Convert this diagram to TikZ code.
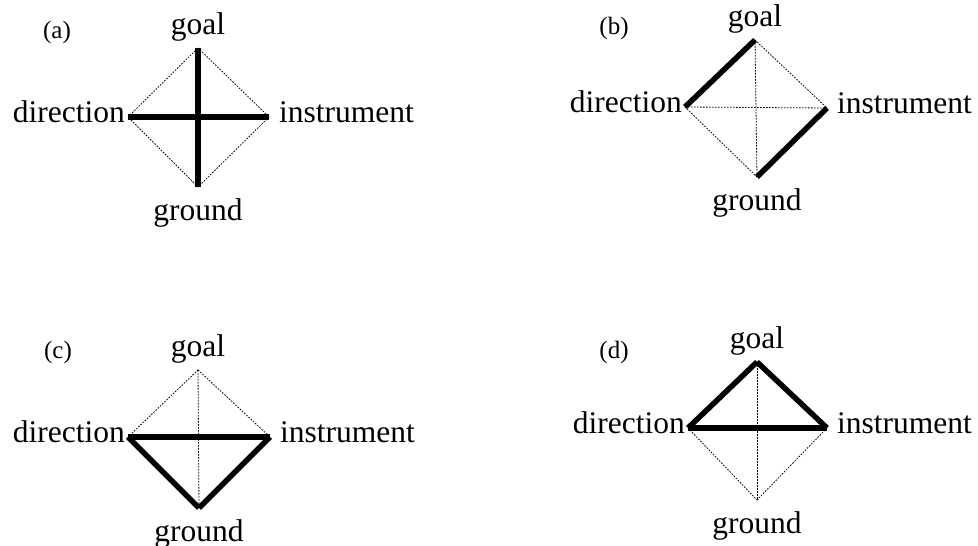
\documentclass[tikz,border=0pt]{standalone}
\usepackage{fontspec}
\setmainfont{Liberation Serif}
\usetikzlibrary{positioning}

\begin{document}
\begin{tikzpicture}[x=1pt,y=1pt,lbl/.style={inner sep=0pt,font=\fontsize{31.5}{38}\selectfont},tag/.style={inner sep=0pt,font=\fontsize{25}{30}\selectfont},heavy/.style={line width=5.5pt,line cap=butt},faint/.style={line width=.8pt,dash pattern=on 1.6pt off 1.4pt}]
\useasboundingbox (0,0) rectangle (978,546);
% (a)
\coordinate (goalA) at (198,498); \coordinate (dirA) at (128,429); \coordinate (insA) at (269,429); \coordinate (gndA) at (198,359);
\node[tag] (tagA) at (57,514) {(a)};
\node[lbl,above=13pt of goalA,anchor=base] (goalAl) {goal};
\node[lbl,left=3pt of dirA,anchor=base east,yshift=-6pt] (dirAl) {direction};
\node[lbl,right=10pt of insA,anchor=base west,yshift=-6pt] (insAl) {instrument};
\node[lbl,below=34pt of gndA,anchor=base] (gndAl) {ground};
\draw[faint] (goalA)--(insA);\draw[faint] (insA)--(gndA);\draw[faint] (gndA)--(dirA);\draw[faint] (dirA)--(goalA);
\draw[heavy] (dirA)--(insA);\draw[heavy] (goalA)--(gndA);
% (b)
\coordinate (goalB) at (755,506); \coordinate (dirB) at (685,439); \coordinate (insB) at (827,438); \coordinate (gndB) at (757,369);
\node[tag] (tagB) at (614,518) {(b)};
\node[lbl,above=13pt of goalB,anchor=base] (goalBl) {goal};
\node[lbl,left=3pt of dirB,anchor=base east,yshift=-6pt] (dirBl) {direction};
\node[lbl,right=10pt of insB,anchor=base west,yshift=-6pt] (insBl) {instrument};
\node[lbl,below=34pt of gndB,anchor=base] (gndBl) {ground};
\draw[faint] (goalB)--(insB);\draw[faint] (dirB)--(gndB);\draw[faint] (dirB)--(insB);\draw[faint] (goalB)--(gndB);
\draw[heavy] (dirB)--(goalB);\draw[heavy] (insB)--(gndB);
% (c)
\coordinate (goalC) at (198,176); \coordinate (dirC) at (128,109); \coordinate (insC) at (270,109); \coordinate (gndC) at (199,38);
\node[tag] (tagC) at (58,194) {(c)};
\node[lbl,above=13pt of goalC,anchor=base] (goalCl) {goal};
\node[lbl,left=3pt of dirC,anchor=base east,yshift=-6pt] (dirCl) {direction};
\node[lbl,right=10pt of insC,anchor=base west,yshift=-6pt] (insCl) {instrument};
\node[lbl,below=34pt of gndC,anchor=base] (gndCl) {ground};
\draw[faint] (goalC)--(dirC);\draw[faint] (goalC)--(insC);\draw[faint] (goalC)--(gndC);
\draw[heavy] (dirC)--(insC);\draw[heavy] (dirC)--(gndC);\draw[heavy] (insC)--(gndC);
% (d)
\coordinate (goalD) at (757,184); \coordinate (dirD) at (688,118); \coordinate (insD) at (827,118); \coordinate (gndD) at (757,46);
\node[tag] (tagD) at (614,194) {(d)};
\node[lbl,above=13pt of goalD,anchor=base] (goalDl) {goal};
\node[lbl,left=3pt of dirD,anchor=base east,yshift=-6pt] (dirDl) {direction};
\node[lbl,right=10pt of insD,anchor=base west,yshift=-6pt] (insDl) {instrument};
\node[lbl,below=34pt of gndD,anchor=base] (gndDl) {ground};
\draw[faint] (dirD)--(gndD);\draw[faint] (insD)--(gndD);\draw[faint] (goalD)--(gndD);
\draw[heavy] (goalD)--(dirD);\draw[heavy] (goalD)--(insD);\draw[heavy] (dirD)--(insD);
\end{tikzpicture}
\end{document}
